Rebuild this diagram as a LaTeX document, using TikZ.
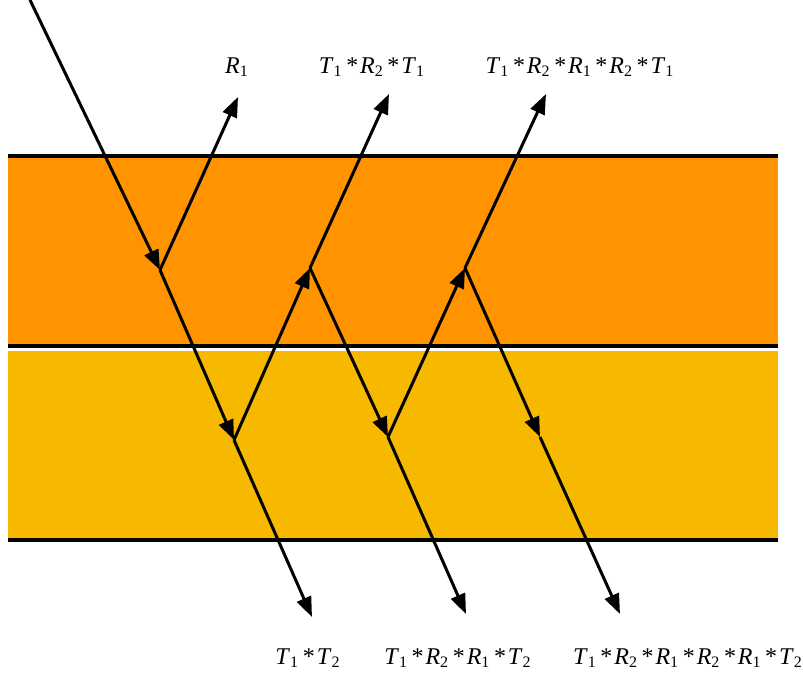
\documentclass[tikz,border=0pt]{standalone}
\usepackage{fontspec}
\setmainfont{Liberation Serif}
\usetikzlibrary{arrows.meta}
\definecolor{layerA}{RGB}{255,147,0}
\definecolor{layerB}{RGB}{246,185,0}
\newcommand{\coef}[2]{\textit{#1}\textsubscript{#2}}
\newcommand{\mul}{\hspace{0.15em}*\hspace{0.08em}}

\begin{document}
\begin{tikzpicture}[x=0.5pt,y=-0.5pt,
  ray/.style={line width=1.5pt,-{Triangle[length=10pt,width=7.5pt]}},
  iface/.style={line width=1.6pt},
  lbl/.style={font=\fontsize{12}{14}\selectfont,inner sep=0pt}]
  \useasboundingbox (0,0) rectangle (803,678);
  % the two layers
  \fill[layerA] (8,156) rectangle (778,346);
  \fill[layerB] (8,351) rectangle (778,540);
  \draw[iface] (8,156) -- (778,156);
  \draw[iface] (8,346) -- (778,346);
  \draw[iface] (8,540) -- (778,540);

  % reflection points
  \coordinate (src) at (30,0);
  \coordinate (a) at (160,270);
  \coordinate (b) at (234,440);
  \coordinate (c) at (310,268);
  \coordinate (d) at (388,437);
  \coordinate (e) at (465,268);
  \coordinate (f) at (540,437);
  \coordinate (up1) at (238,97);
  \coordinate (up2) at (389,94);
  \coordinate (up3) at (546,94);
  \coordinate (dn1) at (312,617);
  \coordinate (dn2) at (466,614);
  \coordinate (dn3) at (620,614);

  \node[lbl] (r1) at (237,67) {\coef{R}{1}};
  \node[lbl] (r2) at (372,67) {\coef{T}{1}\mul\coef{R}{2}\mul\coef{T}{1}};
  \node[lbl] (r3) at (580,67) {\coef{T}{1}\mul\coef{R}{2}\mul\coef{R}{1}\mul\coef{R}{2}\mul\coef{T}{1}};
  \node[lbl] (t1) at (308,658) {\coef{T}{1}\mul\coef{T}{2}};
  \node[lbl] (t2) at (458,658) {\coef{T}{1}\mul\coef{R}{2}\mul\coef{R}{1}\mul\coef{T}{2}};
  \node[lbl] (t3) at (688,658) {\coef{T}{1}\mul\coef{R}{2}\mul\coef{R}{1}\mul\coef{R}{2}\mul\coef{R}{1}\mul\coef{T}{2}};

  \draw[ray] (src) -- (a);
  \draw[ray] (a) -- (up1);
  \draw[ray] (a) -- (b);
  \draw[ray] (b) -- (dn1);
  \draw[ray] (b) -- (c);
  \draw[ray] (c) -- (up2);
  \draw[ray] (c) -- (d);
  \draw[ray] (d) -- (dn2);
  \draw[ray] (d) -- (e);
  \draw[ray] (e) -- (up3);
  \draw[ray] (e) -- (f);
  \draw[ray] (f) -- (dn3);
\end{tikzpicture}
\end{document}
